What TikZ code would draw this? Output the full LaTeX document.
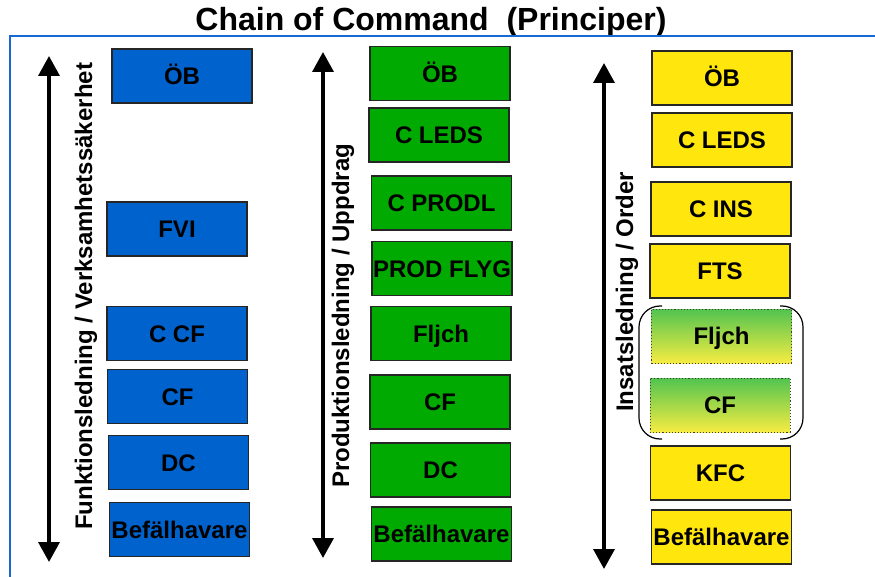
\documentclass[tikz,border=0pt]{standalone}
\usepackage{fontspec}
\setmainfont{Liberation Sans}
\usetikzlibrary{arrows.meta}

\definecolor{fvblue}{RGB}{0,98,204}
\definecolor{prgreen}{RGB}{0,170,0}
\definecolor{inyellow}{RGB}{255,230,12}
\definecolor{frameblue}{RGB}{22,106,210}
\definecolor{gradtop}{RGB}{82,196,80}
\definecolor{gradbot}{RGB}{246,236,66}

\tikzset{
  unit/.style={draw=black!85, line width=1.1pt, minimum width=140pt,
    minimum height=54pt, inner sep=0pt, text height=17.2pt, text depth=0pt,
    font=\fontsize{24}{28}\selectfont\bfseries},
  fvbox/.style={unit, fill=fvblue},
  prbox/.style={unit, fill=prgreen},
  inbox/.style={unit, fill=inyellow},
  mixbox/.style={unit, draw=black!75, dotted, line width=0.8pt,
    top color=gradtop, bottom color=gradbot},
  axislabel/.style={rotate=90, anchor=base west, inner sep=0pt,
    font=\fontsize{24}{28}\selectfont\bfseries},
  axis/.style={line width=3.5pt,
    {Triangle[width=21pt,length=20pt]}-{Triangle[width=21pt,length=20pt]}},
  bracket/.style={line width=1.2pt, rounded corners=21pt},
}

\begin{document}
\begin{tikzpicture}[x=1pt,y=1pt]
\useasboundingbox (0,0) rectangle (875,-577);

% title and frame
\node[anchor=base, inner sep=0pt, font=\fontsize{32}{36}\selectfont\bfseries]
  (title) at (431,-30.5) {Chain of Command\ \ (Principer)};
\draw[frameblue, line width=2pt] (9.5,-578) -- (9.5,-36.5) -- (876,-36.5);

% Funktionsledning
\coordinate (a1t) at (49,-56);
\coordinate (a1b) at (49,-562);
\draw[axis] (a1t) -- (a1b);
\node[axislabel] (l1) at (92,-530) {Funktionsledning / Verksamhetssäkerhet};
\node[fvbox] (f1) at (182,-76)    {ÖB};
\node[fvbox] (f2) at (177,-229)   {FVI};
\node[fvbox] (f3) at (177,-333.5) {C CF};
\node[fvbox] (f4) at (177.5,-396.5) {CF};
\node[fvbox] (f5) at (178.5,-462.5) {DC};
\node[fvbox] (f6) at (179.5,-529.5) {Befälhavare};

% Produktionsledning
\coordinate (a2t) at (323,-52);
\coordinate (a2b) at (323,-558);
\draw[axis] (a2t) -- (a2b);
\node[axislabel] (l2) at (349,-488) {Produktionsledning / Uppdrag};
\node[prbox] (p1) at (440,-73.5)   {ÖB};
\node[prbox] (p2) at (439,-135)    {C LEDS};
\node[prbox] (p3) at (441.5,-203)  {C PRODL};
\node[prbox] (p4) at (442,-268.5)  {PROD FLYG};
\node[prbox] (p5) at (441,-333.5)  {Fljch};
\node[prbox] (p6) at (440,-402)    {CF};
\node[prbox] (p7) at (440.5,-470)  {DC};
\node[prbox] (p8) at (441.5,-534)  {Befälhavare};

% Insatsledning
\coordinate (a3t) at (604,-63);
\coordinate (a3b) at (604,-569);
\draw[axis] (a3t) -- (a3b);
\node[axislabel] (l3) at (633,-412) {Insatsledning / Order};
\node[inbox]  (i1) at (722,-78)    {ÖB};
\node[inbox]  (i2) at (722,-140)   {C LEDS};
\node[inbox]  (i3) at (721,-209)   {C INS};
\node[inbox]  (i4) at (720,-271)   {FTS};
\node[mixbox] (i5) at (721.5,-336) {Fljch};
\node[mixbox] (i6) at (720,-405)   {CF};
\node[inbox]  (i7) at (720.5,-473) {KFC};
\node[inbox]  (i8) at (721.5,-537) {Befälhavare};

% brackets round the shared units
\draw[bracket] (662,-306) -- (639,-306) -- (639,-439) -- (662,-439);
\draw[bracket] (780,-306) -- (803,-306) -- (803,-439) -- (780,-439);
\end{tikzpicture}
\end{document}
